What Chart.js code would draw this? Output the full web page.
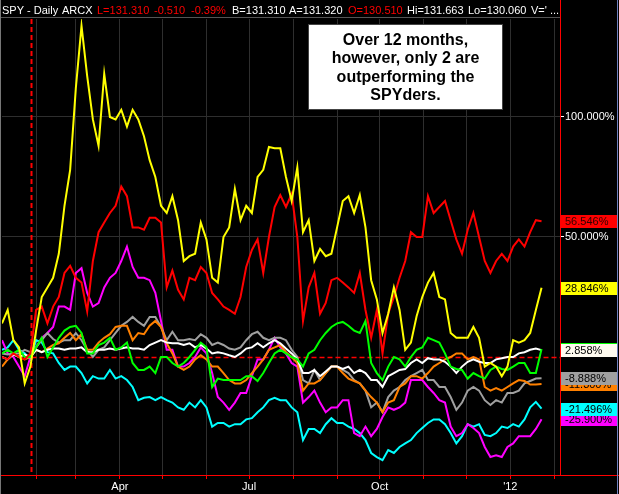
<!DOCTYPE html>
<html>
<head>
<meta charset="utf-8">
<script src="https://cdn.jsdelivr.net/npm/chart.js@4.4.1/dist/chart.umd.min.js"></script>
<style>
  html, body { margin: 0; padding: 0; background: #000; }
  #chart { display: block; }
</style>
</head>
<body>
<canvas id="chart" width="619" height="494"></canvas>
<script>
// ============================================
// DATA (% change, sampled every 4 calendar days from day 7 of 2011)
// ============================================

const startDay = 7;
const stepDays = 4;
const baseDay = 27.5;   // dashed red marker where all series are rebased

const monthDays = [31, 59, 90, 120, 151, 181, 212, 243, 273, 304, 334, 365, 396];
const monthLabels = ['', '', 'Apr', '', '', 'Jul', '', '', 'Oct', '', '', "'12", ''];
const yTicks = [0, 50, 100];

const yellowSeries = [14, 19.6, 7, 4, -11, -4, 11, 25, 29, 33, 43, 63, 78, 112, 138, 117, 99, 88, 118, 100,
    99, 103, 96, 103, 99, 92, 82, 75, 63, 60, 67, 57, 40, 42, 43, 56, 49, 33, 31, 50,
    54, 70, 57, 63, 60, 75, 78, 87.5, 87, 87, 75, 65, 79, 52, 57, 40, 45, 42, 43, 54,
    65, 67, 60, 67.5, 54, 32, 24, 10, 18, 29, 19.6, 3, 6, 17, 25, 31, 35, 25, 24, 10,
    8, 8, 8, 12.5, 8, -4, -2.5, -4, -8, -4, 7, 6, 7, 10, 19.6, 28.846];

const redSeries = [0, -1, 1.5, 0, -1, 1.5, 19.6, 21, 14, 21, 25, 35, 38, 33, 31, 19, 40, 52, 56, 60,
    63, 71, 67, 54, 54, 53, 58, 58, 56, 29, 36, 28, 24, 33, 32, 37.5, 35, 26.7, 24, 21,
    19.6, 18, 25, 37.5, 44.6, 49, 35, 50, 62.5, 67.5, 62.5, 68, 50, 15, 29, 35, 18, 22.5, 32, 33,
    31, 29, 26.7, 35, 19.6, 8, 19.6, 1.5, 18, 25, 33, 40, 52, 50, 50, 67, 60, 62.5, 65, 57,
    49, 43, 53, 60, 50, 40, 35, 40, 43, 40, 46, 49, 46, 52, 57, 56.546];

const greenSeries = [1.5, 3, 1.5, 3, 0, 0, 4, 8, 0, 4, 8, 11, 12.5, 13, 10, 1.5, 1.5, 5, 6, 8,
    3, 4, 6, -2.5, -5.4, -5.4, -4, -6.7, 0, 0, -2.5, -4, -2.5, 0, 3, 6, 4, -12.5, -9, -9.6,
    -9.6, -9.6, -9.6, -8, -8, -10, -6.7, -2.5, 1.5, 3, 1.5, 0, -1, -4, 1.5, 3, 7, 10, 12.5, 14,
    14.6, 13, 11, 10, 15, -2.5, -6.7, -9.6, -4, 0, -1, -4, 0, 3, 4, 8, 7, 6, 1.5, -4,
    -5, -5.4, -9, -6.7, -8, -9, -5.4, -4, -5, -5.4, -4, -2.5, -2.5, -6.7, -6.7, 3.3];

const whiteSeries = [0, -1, 1, 0, 1, 0, 3, 2, 3, 3.5, 3.5, 3, 3.5, 3.5, 4, 2, 2, 3, 3, 3.5,
    3, 3.5, 4, 3.5, 3.5, 3, 5, 6, 7, 6, 5.7, 5.7, 5, 5.7, 4, 5, 3.5, 1.5, 2, 1.5,
    0.7, 0, 1.5, 3.5, 4, 5.7, 4, 5.7, 7, 5.7, 3.5, 1.5, -1, -6.7, -6.7, -5.4, -8, -6, -4, -4,
    -5, -4, -6.7, -5.4, -6.7, -9.6, -9.6, -12.5, -8, -6.7, -5.4, -5, -2.5, -1, -2.5, -0.5, -1, -1, -2, -4,
    -6.7, -4, -2, -1, -2, -2.5, -2.5, -1, -0.5, 0, 0, 1.5, 2, 3, 3.5, 2.858];

const orangeSeries = [-4, -1, 1.5, 0, -1, 0, 3, 2, 3.5, 5, 5.7, 8, 10, 7, 9.5, 3, 3, 6, 8, 9.5,
    12.5, 13, 13, 7, 10, 9.5, 13, 15, 12.5, 5.7, 1.5, -4, -5.4, -4, -1, 0.7, -1, -4, -4, -6.7,
    -9.6, -11, -11, -9.6, -6.7, -4, -1, 3, 4, 5, 2, 0, -2.5, -14, -11, -11, -9.6, -6.7, -4, -4,
    -6.7, -9, -10, -11, -14, -16.7, -19, -23, -19, -18, -12.5, -11, -8, -8, -9, -6.7, -4, -2.5, -1, 0,
    1.5, 1.5, -1, 0, -1, -12.5, -14, -13, -14, -12.5, -11, -9.6, -10, -11.5, -11.5, -11.3];

const graySeries = [1.5, 1, 1.5, 1.5, 3, 2, 4, 7, 10, 7.5, 6, 7, 7, 10, 7, 3, 0, 3, 4, 7,
    10, 13, 14.6, 16.7, 14.6, 13, 16.7, 16.7, 12.5, 7, 10.5, 7, 7, 7.5, 7, 9.5, 8, 5, 6, 5,
    3.5, 3, 4, 7, 9.5, 10.5, 8, 7, 8, 8, 7, 3, 0, -9.6, -11, -5.4, -9.6, -6.7, -4, -4,
    -5.4, -6.7, -9.6, -11, -14, -21, -19, -23, -16.7, -14, -12.5, -9.6, -8, -6.7, -5.4, -9.6, -9.6, -12.5, -12.5, -16.7,
    -22, -19, -14, -12.5, -14, -18, -20, -18, -19, -15, -15, -14, -11, -10, -9, -8.888];

const magentaSeries = [7, 1.5, 0, -4, -8, 0, 4, 8, 10, 12.5, 21, 21, 19.6, 35, 37, 26.7, 21, 22.5, 29, 33,
    35, 40, 46, 37.5, 33, 33, 32, 26.7, 15, 3, 3, -4, -4, -2.5, 0, 4, 1.5, -6.7, -16.7, -19,
    -22, -19, -15, -15, -8, -1, -1, 3, 8, 4, 1.5, -2.5, -4, -19, -16.7, -14, -19, -23, -21, -21,
    -18, -18, -31.7, -33, -29, -33, -30, -25, -21, -22, -21, -19, -9.6, -9.6, -9.6, -12.5, -15, -18, -19, -29,
    -33, -31.7, -28, -29.6, -31.7, -37.5, -41.7, -41, -41.7, -37.5, -36, -33, -33, -33, -30, -25.9];

const cyanSeries = [3, 4, 7, 3, 1.5, -1, 7, 6, 2, 1.5, -2.5, -5.4, -4, -4, -6.7, -11, -8, -9, -9, -5.4,
    -9, -8, -9.6, -12.5, -18, -17, -16.7, -18, -16.7, -18, -19, -21, -22, -19, -21, -18, -21, -29, -27.5, -27.5,
    -29, -28, -28, -26, -25.5, -23, -21, -18, -17, -18, -18, -21, -23, -34.6, -30, -30, -31.7, -28, -25.5, -27.5,
    -27.5, -29, -30, -31.7, -34.6, -40, -41.7, -43, -38.8, -40, -37.5, -36, -34.6, -31.7, -29.6, -27.5, -26, -26, -28, -31.7,
    -36, -33, -28, -29, -28, -32.5, -33, -31.7, -29, -29.6, -28, -29, -26, -21, -18.7, -21.496];

// ============================================
// CHART
// ============================================

const FONT = '"Liberation Sans", Arial, sans-serif';

function toPoints(values) {
    return values.map((v, i) => ({ x: startDay + i * stepDays, y: v }));
}

function makeDataset(name, values, color, labelBg, labelText, labelOrder) {
    return {
        label: name,
        data: toPoints(values),
        borderColor: color,
        borderWidth: 2,
        pointRadius: 0,
        tension: 0,
        fill: false,
        labelBg: labelBg,
        labelText: labelText,
        labelOrder: labelOrder
    };
}

// first in list is drawn on top
const datasets = [
    makeDataset('yellow', yellowSeries, '#ffff00', '#ffff00', '#000', 3),
    makeDataset('red', redSeries, '#ff0000', '#ff0000', '#300000', 4),
    makeDataset('green', greenSeries, '#00ff00', '#00ff00', '#000', 0),
    makeDataset('white', whiteSeries, '#ffffff', '#fffbf0', '#000', 5),
    makeDataset('orange', orangeSeries, '#ff8000', '#ff8000', '#000', 1),
    makeDataset('gray', graySeries, '#a0a0a0', '#a0a0a0', '#000', 6),
    makeDataset('magenta', magentaSeries, '#ff00ff', '#ff00ff', '#000', 2),
    makeDataset('cyan', cyanSeries, '#00ffff', '#00ffff', '#000', 7)
];

const headerParts = [
    ['SPY - Daily', 2, '#ffffff'],
    ['ARCX', 62, '#ffffff'],
    ['L=131.310', 97, '#ff0000'],
    ['-0.510', 154, '#ff0000'],
    ['-0.39%', 191, '#ff0000'],
    ['B=131.310', 232, '#ffffff'],
    ['A=131.320', 289, '#ffffff'],
    ['O=130.510', 348, '#ff0000'],
    ['Hi=131.663', 407, '#ffffff'],
    ['Lo=130.060', 468, '#ffffff'],
    ["V=' ...", 531, '#ffffff']
];

const noteLines = ['Over 12 months,', 'however, only 2 are', 'outperforming the', 'SPYders.'];

const backgroundPlugin = {
    id: 'background',
    beforeDraw(chart) {
        const ctx = chart.ctx;
        ctx.save();
        ctx.fillStyle = '#000';
        ctx.fillRect(0, 0, chart.width, chart.height);
        ctx.restore();
    }
};

const markersPlugin = {
    id: 'markers',
    beforeDatasetsDraw(chart) {
        const ctx = chart.ctx;
        const area = chart.chartArea;
        const xs = chart.scales.x;
        const ys = chart.scales.y;
        const bx = Math.round(xs.getPixelForValue(baseDay)) + 0.5;
        const zy = Math.round(ys.getPixelForValue(0)) + 0.5;

        ctx.save();
        ctx.strokeStyle = '#ff0000';
        ctx.setLineDash([5, 3]);
        // zero line
        ctx.lineWidth = 1.5;
        ctx.beginPath();
        ctx.moveTo(bx, zy);
        ctx.lineTo(area.right, zy);
        ctx.stroke();
        // base date line
        ctx.lineWidth = 2;
        ctx.beginPath();
        ctx.moveTo(bx, area.top);
        ctx.lineTo(bx, area.bottom);
        ctx.stroke();
        ctx.restore();
    }
};

const overlayPlugin = {
    id: 'overlay',
    afterDraw(chart) {
        const ctx = chart.ctx;
        const area = chart.chartArea;
        const ys = chart.scales.y;

        ctx.save();

        // header
        ctx.fillStyle = '#000';
        ctx.fillRect(0, 0, chart.width, area.top);
        ctx.font = '11px ' + FONT;
        ctx.textBaseline = 'alphabetic';
        ctx.textAlign = 'left';
        headerParts.forEach(p => {
            ctx.fillStyle = p[2];
            ctx.fillText(p[0], p[1], 14);
        });
        ctx.strokeStyle = '#555';
        ctx.lineWidth = 1;
        ctx.beginPath();
        ctx.moveTo(0, area.top - 1.5);
        ctx.lineTo(area.right, area.top - 1.5);
        ctx.stroke();

        // right axis line through header and full width base line
        ctx.strokeStyle = '#ff0000';
        ctx.beginPath();
        ctx.moveTo(area.right + 0.5, 0);
        ctx.lineTo(area.right + 0.5, area.bottom);
        ctx.moveTo(0, area.bottom + 0.5);
        ctx.lineTo(chart.width, area.bottom + 0.5);
        ctx.stroke();

        // frame edges
        ctx.strokeStyle = '#777';
        ctx.beginPath();
        ctx.moveTo(0.5, 0);
        ctx.lineTo(0.5, chart.height);
        ctx.stroke();
        ctx.strokeStyle = '#7080c0';
        ctx.beginPath();
        ctx.moveTo(chart.width - 1.5, 0);
        ctx.lineTo(chart.width - 1.5, chart.height);
        ctx.stroke();

        // last value labels
        const ordered = chart.data.datasets.slice().sort((a, b) => a.labelOrder - b.labelOrder);
        ctx.font = '11px ' + FONT;
        ctx.textBaseline = 'middle';
        ordered.forEach(ds => {
            const last = ds.data[ds.data.length - 1].y;
            const y = Math.round(ys.getPixelForValue(last));
            ctx.fillStyle = ds.labelBg;
            ctx.fillRect(area.right + 1, y - 6, 56, 13);
            ctx.fillStyle = ds.labelText;
            ctx.fillText(last.toFixed(3) + '%', area.right + 5, y + 1);
        });

        // note box
        ctx.fillStyle = '#ffffff';
        ctx.fillRect(308, 24, 195, 86);
        ctx.strokeStyle = '#444';
        ctx.strokeRect(308.5, 24.5, 194, 85);
        ctx.fillStyle = '#000';
        ctx.font = 'bold 16px ' + FONT;
        ctx.textAlign = 'center';
        ctx.textBaseline = 'alphabetic';
        noteLines.forEach((line, i) => {
            ctx.fillText(line, 405.5, 44.5 + i * 18.5);
        });

        ctx.restore();
    }
};

new Chart(document.getElementById('chart'), {
    type: 'line',
    data: { datasets: datasets },
    options: {
        responsive: false,
        animation: false,
        devicePixelRatio: 1,
        layout: { padding: { top: 19, left: 2, right: 0, bottom: 0 } },
        plugins: {
            legend: { display: false },
            tooltip: { enabled: false }
        },
        scales: {
            x: {
                type: 'linear',
                min: 7,
                max: 400,
                afterBuildTicks: axis => {
                    axis.ticks = monthDays.map(d => ({ value: d }));
                },
                afterFit: axis => { axis.height = 19; },
                ticks: {
                    autoSkip: false,
                    maxRotation: 0,
                    color: '#ffffff',
                    padding: 1,
                    font: { size: 11, family: FONT },
                    callback: (value, index) => monthLabels[index]
                },
                grid: {
                    color: '#2e2e2e',
                    tickColor: '#ff0000',
                    tickLength: 4,
                    drawTicks: true
                },
                border: { color: '#ff0000' }
            },
            y: {
                position: 'right',
                min: -49.17,
                max: 140.83,
                afterBuildTicks: axis => {
                    axis.ticks = yTicks.map(v => ({ value: v }));
                },
                afterFit: axis => { axis.width = 59; },
                ticks: {
                    color: '#ffffff',
                    padding: 1,
                    font: { size: 11, family: FONT },
                    callback: value => value === 0 ? '' : value.toFixed(3) + '%'
                },
                grid: {
                    color: ctx => ctx.tick && ctx.tick.value === 0 ? 'rgba(0,0,0,0)' : '#2e2e2e',
                    tickColor: ctx => ctx.tick && ctx.tick.value === 0 ? 'rgba(0,0,0,0)' : '#ffffff',
                    tickLength: 4
                },
                border: { color: '#ff0000' }
            }
        }
    },
    plugins: [backgroundPlugin, markersPlugin, overlayPlugin]
});
</script>
</body>
</html>
